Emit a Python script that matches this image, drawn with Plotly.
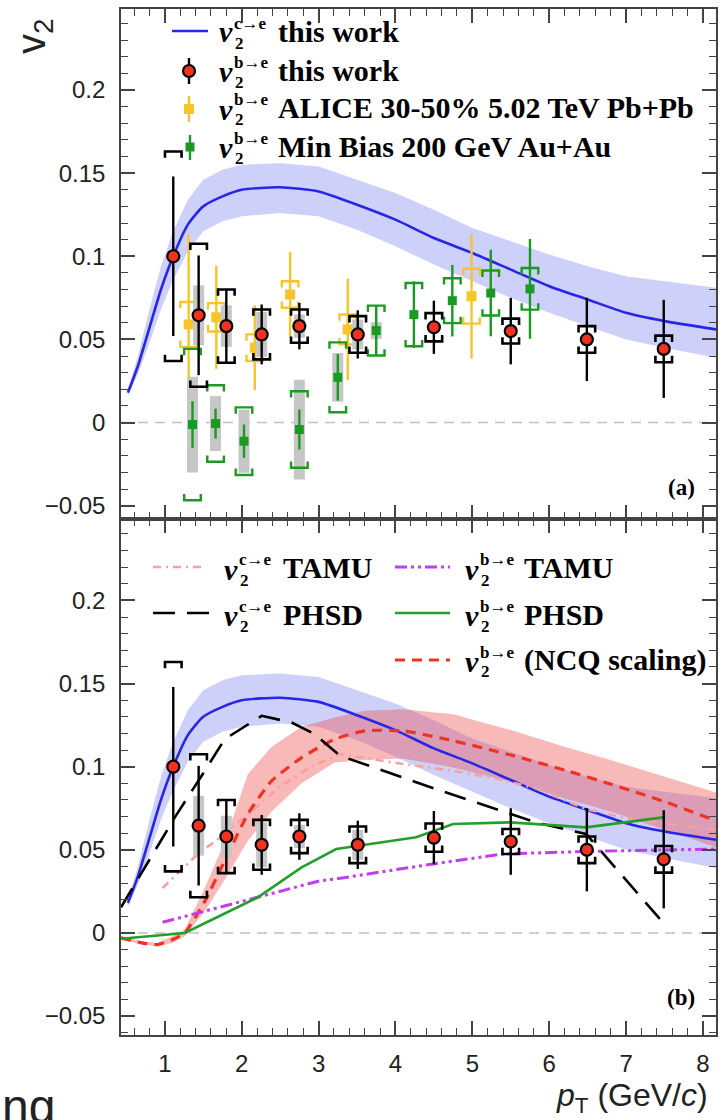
import plotly.graph_objects as go

# ---------------- data ----------------
# b->e v2, this work
b_pt = [1.11, 1.44, 1.80, 2.26, 2.75, 3.51, 4.50, 5.50, 6.49, 7.49]
b_v2 = [0.100, 0.0645, 0.058, 0.053, 0.058, 0.053, 0.0573, 0.055, 0.050, 0.0443]
b_stat = [0.048, 0.036, 0.022, 0.018, 0.014, 0.0145, 0.016, 0.020, 0.025, 0.0295]
b_sys = [0.063, 0.043, 0.022, 0.015, 0.010, 0.011, 0.0085, 0.0075, 0.008, 0.008]
b_gray = [0, 0.018, 0.0125, 0.0135, 0.007, 0.009, 0, 0, 0, 0]

# ALICE 30-50% 5.02 TeV Pb+Pb
alice_pt = [1.31, 1.67, 2.17, 2.63, 3.38, 4.99]
alice_v2 = [0.059, 0.0633, 0.045, 0.077, 0.056, 0.076]
alice_stat = [0.054, 0.031, 0.0255, 0.0255, 0.0305, 0.0375]
alice_sys = [0.0135, 0.0085, 0.008, 0.008, 0.009, 0.0165]

# Min Bias 200 GeV Au+Au
star_pt = [1.36, 1.66, 2.03, 2.75, 3.25, 3.75, 4.24, 4.74, 5.24, 5.75]
star_v2 = [-0.0012, -0.0006, -0.0112, -0.0042, 0.0272, 0.0553, 0.0649, 0.0733, 0.0779, 0.0804]
star_stat = [0.014, 0.009, 0.010, 0.012, 0.014, 0.015, 0.020, 0.0215, 0.026, 0.030]
star_sys = [0.0455, 0.023, 0.0203, 0.023, 0.021, 0.015, 0.019, 0.0135, 0.0135, 0.0125]
star_gray = [0.0288, 0.0165, 0.019, 0.030, 0.0146, 0.005, 0, 0, 0, 0]

# c->e v2, this work (curve + band)
c_pt = [0.52, 0.65, 0.80, 0.95, 1.10, 1.30, 1.50, 1.75, 2.00, 2.50, 3.00, 3.50, 4.00,
        4.50, 5.00, 5.50, 6.00, 6.50, 7.00, 7.50, 8.17]
c_v2 = [0.018, 0.034, 0.057, 0.080, 0.099, 0.119, 0.130, 0.136, 0.140, 0.1415, 0.139,
        0.131, 0.122, 0.111, 0.102, 0.092, 0.082, 0.074, 0.066, 0.061, 0.056]
c_lo = [0.016, 0.029, 0.048, 0.068, 0.085, 0.103, 0.115, 0.121, 0.124, 0.126, 0.124,
        0.116, 0.106, 0.095, 0.085, 0.075, 0.066, 0.058, 0.050, 0.045, 0.039]
c_hi = [0.020, 0.040, 0.068, 0.094, 0.114, 0.134, 0.146, 0.152, 0.155, 0.156, 0.154,
        0.146, 0.138, 0.128, 0.117, 0.109, 0.101, 0.094, 0.088, 0.085, 0.081]

# b->e NCQ scaling (curve + band)
ncq_pt = [0.43, 0.70, 0.90, 1.10, 1.26, 1.52, 1.78, 2.08, 2.39, 2.78, 3.21, 3.60, 4.10,
          4.75, 5.50, 6.20, 6.80, 7.50, 8.17]
ncq_v2 = [-0.003, -0.006, -0.007, -0.004, 0.0, 0.019, 0.0435, 0.0715, 0.0915, 0.1055,
          0.1166, 0.1216, 0.1216, 0.1156, 0.107, 0.098, 0.0895, 0.079, 0.0675]
ncq_lo = [-0.004, -0.007, -0.008, -0.006, -0.002, 0.013, 0.032, 0.0555, 0.073, 0.090,
          0.1025, 0.104, 0.105, 0.0995, 0.091, 0.081, 0.073, 0.062, 0.0515]
ncq_hi = [-0.002, -0.005, -0.006, -0.002, 0.002, 0.027, 0.055, 0.0955, 0.112, 0.124,
          0.1296, 0.1336, 0.1345, 0.1316, 0.122, 0.112, 0.104, 0.094, 0.0845]

# TAMU c->e
tamu_c_pt = [0.97, 1.43, 1.78, 2.08, 2.50, 2.90, 3.28, 4.10, 4.75, 5.30, 5.83, 6.48, 7.00, 7.50, 8.17]
tamu_c_v2 = [0.027, 0.0475, 0.0595, 0.0715, 0.088, 0.100, 0.1076, 0.1016, 0.0975, 0.093,
             0.087, 0.0745, 0.069, 0.066, 0.062]
# TAMU b->e
tamu_b_pt = [0.97, 2.21, 3.02, 3.21, 4.49, 5.40, 6.48, 8.17]
tamu_b_v2 = [0.0064, 0.0214, 0.0314, 0.0324, 0.0415, 0.0475, 0.049, 0.0505]
# PHSD c->e
phsd_c_pt = [0.43, 1.13, 1.52, 1.78, 2.26, 2.65, 2.95, 3.28, 4.53, 5.83, 6.48, 7.44]
phsd_c_v2 = [0.0154, 0.0695, 0.0975, 0.1166, 0.1306, 0.1266, 0.1196, 0.1066, 0.0865,
             0.0665, 0.0595, 0.0084]
# PHSD b->e
phsd_b_pt = [0.43, 1.26, 2.21, 2.78, 3.23, 4.27, 4.75, 5.49, 6.48, 7.48]
phsd_b_v2 = [-0.0035, 0.0, 0.0214, 0.0394, 0.0505, 0.0575, 0.0655, 0.0665, 0.0635, 0.0695]

x_ticks = [1, 2, 3, 4, 5, 6, 7, 8]
y_ticks = [-0.05, 0, 0.05, 0.1, 0.15, 0.2]
y_ticktext = ["\u22120.05", "0", "0.05", "0.1", "0.15", "0.2"]

# ---------------- styling ----------------
W, H = 720, 1120
ML, MR, MT, MB = 121, 4, 9, 85
PW, PH = W - ML - MR, H - MT - MB
SPLIT = (1035 - 519) / PH

RED = "#f0321e"
YEL = "#f8c42c"
GRN = "#1a9a22"
BLUE = "#2626e6"
GRAY = "#c6c6c6"
AX = "#444444"
SERIF = "Liberation Serif"
SANS = "Liberation Sans"

BW = 0.108   # bracket half width (GeV)
BL = 0.0038  # bracket leg length


def brackets(xs, ys, es, w=BW, leg=BL):
    X, Y = [], []
    for x, y, e in zip(xs, ys, es):
        if e <= 0:
            continue
        X += [x - w, x - w, x + w, x + w, None, x - w, x - w, x + w, x + w, None]
        Y += [y + e - leg, y + e, y + e, y + e - leg, None,
              y - e + leg, y - e, y - e, y - e + leg, None]
    return X, Y


def boxes(xs, ys, gs):
    X, Y = [], []
    for x, y, g in zip(xs, ys, gs):
        if g <= 0:
            continue
        X += [x, x, None]
        Y += [y - g, y + g, None]
    return X, Y


fig = go.Figure()


def add(tr, top):
    tr.update(xaxis="x2" if top else "x", yaxis="y2" if top else "y",
              showlegend=False, hoverinfo="skip")
    fig.add_trace(tr)


def band(xs, lo, hi, color, top):
    add(go.Scatter(x=list(xs) + list(xs)[::-1], y=list(hi) + list(lo)[::-1],
                   fill="toself", fillcolor=color, mode="lines",
                   line=dict(width=0)), top)


def this_work_points(top):
    gx, gy = boxes(b_pt, b_v2, b_gray)
    add(go.Scatter(x=gx, y=gy, mode="lines", line=dict(color=GRAY, width=11)), top)
    bx, by = brackets(b_pt, b_v2, b_sys)
    add(go.Scatter(x=bx, y=by, mode="lines", line=dict(color="black", width=2.6)), top)
    add(go.Scatter(x=b_pt, y=b_v2, mode="markers",
                   marker=dict(symbol="circle", size=12, color=RED,
                               line=dict(color="black", width=2.2)),
                   error_y=dict(type="data", array=b_stat, color="black",
                                thickness=2.4, width=0)), top)


# ---- top panel ----
band(c_pt, c_lo, c_hi, "rgba(100,110,235,0.32)", True)
add(go.Scatter(x=c_pt, y=c_v2, mode="lines", line=dict(color=BLUE, width=2.6, shape="spline", smoothing=0.6)), True)

# ALICE
ax_, ay_ = brackets(alice_pt, alice_v2, alice_sys)
add(go.Scatter(x=alice_pt, y=alice_v2, mode="markers",
               marker=dict(symbol="square", size=10, color=YEL),
               error_y=dict(type="data", array=alice_stat, color=YEL, thickness=2.4, width=0)), True)
add(go.Scatter(x=ax_, y=ay_, mode="lines", line=dict(color=YEL, width=2.4)), True)

# STAR min bias
gx, gy = boxes(star_pt, star_v2, star_gray)
add(go.Scatter(x=gx, y=gy, mode="lines", line=dict(color=GRAY, width=11)), True)
sx, sy = brackets(star_pt, star_v2, star_sys)
add(go.Scatter(x=sx, y=sy, mode="lines", line=dict(color=GRN, width=2.4)), True)
add(go.Scatter(x=star_pt, y=star_v2, mode="markers",
               marker=dict(symbol="square", size=9, color=GRN),
               error_y=dict(type="data", array=star_stat, color=GRN, thickness=2.4, width=0)), True)

this_work_points(True)

# ---- bottom panel ----
band(c_pt, c_lo, c_hi, "rgba(100,110,235,0.32)", False)
band(ncq_pt, ncq_lo, ncq_hi, "rgba(238,80,80,0.40)", False)
add(go.Scatter(x=c_pt, y=c_v2, mode="lines", line=dict(color=BLUE, width=2.6, shape="spline", smoothing=0.6)), False)
add(go.Scatter(x=tamu_c_pt, y=tamu_c_v2, mode="lines",
               line=dict(color="#f7a0a0", width=2.6, dash="8px,5px,2px,5px")), False)
add(go.Scatter(x=ncq_pt, y=ncq_v2, mode="lines",
               line=dict(color="#ee3322", width=3.2, dash="10px,7px", shape="spline", smoothing=0.5)), False)
add(go.Scatter(x=phsd_c_pt, y=phsd_c_v2, mode="lines",
               line=dict(color="black", width=2.6, dash="22px,12px")), False)
add(go.Scatter(x=tamu_b_pt, y=tamu_b_v2, mode="lines",
               line=dict(color="#c23cf0", width=3, dash="12px,4px,3px,4px,3px,4px")), False)
add(go.Scatter(x=phsd_b_pt, y=phsd_b_v2, mode="lines",
               line=dict(color="#22a02a", width=2.6)), False)
this_work_points(False)

# ---------------- axes ----------------
common_x = dict(range=[0.43, 8.17], tickvals=x_ticks, ticks="inside", ticklen=14,
                tickwidth=1.5, tickcolor=AX, showline=True, linecolor=AX, linewidth=1.6,
                mirror="allticks", showgrid=False, zeroline=False, automargin=False,
                minor=dict(dtick=0.2, ticks="inside", ticklen=7, tickwidth=1.3, tickcolor=AX,
                           showgrid=False),
                tickfont=dict(family=SANS, size=24, color="#222"))
common_y = dict(tickvals=y_ticks, ticktext=y_ticktext, ticks="inside", ticklen=14,
                tickwidth=1.5, tickcolor=AX, showline=True, linecolor=AX, linewidth=1.6,
                mirror="allticks", showgrid=False, zeroline=False, automargin=False,
                minor=dict(dtick=0.01, tick0=0, ticks="inside", ticklen=7, tickwidth=1.3,
                           tickcolor=AX, showgrid=False),
                tickfont=dict(family=SANS, size=24, color="#222"), ticklabelstandoff=9)

fig.update_layout(
    width=W, height=H, margin=dict(l=ML, r=MR, t=MT, b=MB, autoexpand=False),
    paper_bgcolor="white", plot_bgcolor="white", showlegend=False,
    xaxis=dict(domain=[0, 1], anchor="y", ticklabelstandoff=6, **common_x),
    xaxis2=dict(domain=[0, 1], anchor="y2", matches="x", showticklabels=False, **common_x),
    yaxis=dict(domain=[0, SPLIT], anchor="x", range=[-0.0614, 0.249], **common_y),
    yaxis2=dict(domain=[SPLIT, 1], anchor="x2", range=[-0.058, 0.2487], **common_y),
)

# zero lines
for yr, xr in (("y", "x"), ("y2", "x2")):
    fig.add_shape(type="line", xref=xr + " domain", yref=yr, x0=0, x1=1, y0=0, y1=0,
                  line=dict(color="#c0c0c0", width=1.6, dash="10px,7px"), layer="below")


# ---------------- legends (custom, pixel positioned) ----------------
def P(px, py):
    return (px - ML) / PW, (H - MB - py) / PH


def txt(px, py, s, size, style="normal", weight="bold", family=SERIF, anchor="left", color="black"):
    x, y = P(px, py)
    fig.add_annotation(xref="paper", yref="paper", x=x, y=y, text=s, showarrow=False,
                       xanchor=anchor, yanchor="middle",
                       font=dict(family=family, size=size, style=style, weight=weight, color=color))


def entry(vx, vy, sup, label):
    txt(vx, vy, "v", 30, style="italic")
    txt(vx + 15, vy - 9, sup, 17)
    txt(vx + 16, vy + 11, "2", 17)
    txt(vx + 59, vy - 1, label, 30)


def hline(x0, x1, py, color, width, dash="solid"):
    _, y = P(0, py)
    fig.add_shape(type="line", xref="paper", yref="paper", x0=P(x0, 0)[0], x1=P(x1, 0)[0],
                  y0=y, y1=y, line=dict(color=color, width=width, dash=dash))


def vline(px, py0, py1, color, width):
    x, _ = P(px, 0)
    fig.add_shape(type="line", xref="paper", yref="paper", x0=x, x1=x,
                  y0=P(0, py0)[1], y1=P(0, py1)[1], line=dict(color=color, width=width))


def marker_shape(px, py, size, kind, fill, line_color, line_width):
    x, y = P(px, py)
    fig.add_shape(type=kind, xref="paper", yref="paper", xsizemode="pixel", ysizemode="pixel",
                  xanchor=x, yanchor=y, x0=-size / 2, x1=size / 2, y0=-size / 2, y1=size / 2,
                  fillcolor=fill, line=dict(color=line_color, width=line_width))


# top legend
hline(172, 208, 31, BLUE, 2.6)
entry(217, 32, "c\u2192e", "this work")
vline(189, 58, 84, "black", 2.4)
marker_shape(189, 71, 12, "circle", RED, "black", 2.2)
entry(217, 71, "b\u2192e", "this work")
vline(189, 96, 122, YEL, 2.4)
marker_shape(189, 109, 10, "rect", YEL, YEL, 0)
entry(217, 109, "b\u2192e", "ALICE 30-50% 5.02 TeV Pb+Pb")
vline(190, 135, 160, GRN, 2.4)
marker_shape(190, 147, 9, "rect", GRN, GRN, 0)
entry(217, 147, "b\u2192e", "Min Bias 200 GeV Au+Au")

# bottom legend
hline(153, 205, 567, "#f7a0a0", 2.6, "8px,5px,2px,5px")
entry(222, 569, "c\u2192e", "TAMU")
hline(395, 450, 567, "#c23cf0", 3, "12px,4px,3px,4px,3px,4px")
entry(463, 569, "b\u2192e", "TAMU")
hline(153, 210, 613, "black", 2.6, "22px,12px")
entry(222, 615, "c\u2192e", "PHSD")
hline(395, 450, 613, "#22a02a", 2.6)
entry(463, 615, "b\u2192e", "PHSD")
hline(395, 450, 660, "#ee3322", 3.2, "10px,7px")
entry(463, 661, "b\u2192e", "(NCQ scaling)")

# panel labels
txt(697, 488, "(a)", 23, anchor="right")
txt(697, 997, "(b)", 23, anchor="right")

# axis titles
xt, yt = P(710, 1097)
fig.add_annotation(xref="paper", yref="paper", x=xt, y=yt, showarrow=False,
                   xanchor="right", yanchor="middle",
                   text="<i>p</i><sub>T</sub> (GeV/<i>c</i>)",
                   font=dict(family=SANS, size=32, color="#222"))
vx, vy = P(34, 36)
fig.add_annotation(xref="paper", yref="paper", x=vx, y=vy, showarrow=False,
                   xanchor="center", yanchor="middle", textangle=-90,
                   text="v<sub>2</sub>", font=dict(family=SANS, size=40, color="#222"))

# stray page text at bottom-left
nx, ny = P(0, 1106)
fig.add_annotation(xref="paper", yref="paper", x=nx, y=ny, showarrow=False,
                   xanchor="left", yanchor="middle", text="ng",
                   font=dict(family=SANS, size=48, color="#222"))

fig.write_html("out.html", config={"displayModeBar": False},
               post_script="document.body.style.margin='0px';document.body.style.overflow='hidden';")
